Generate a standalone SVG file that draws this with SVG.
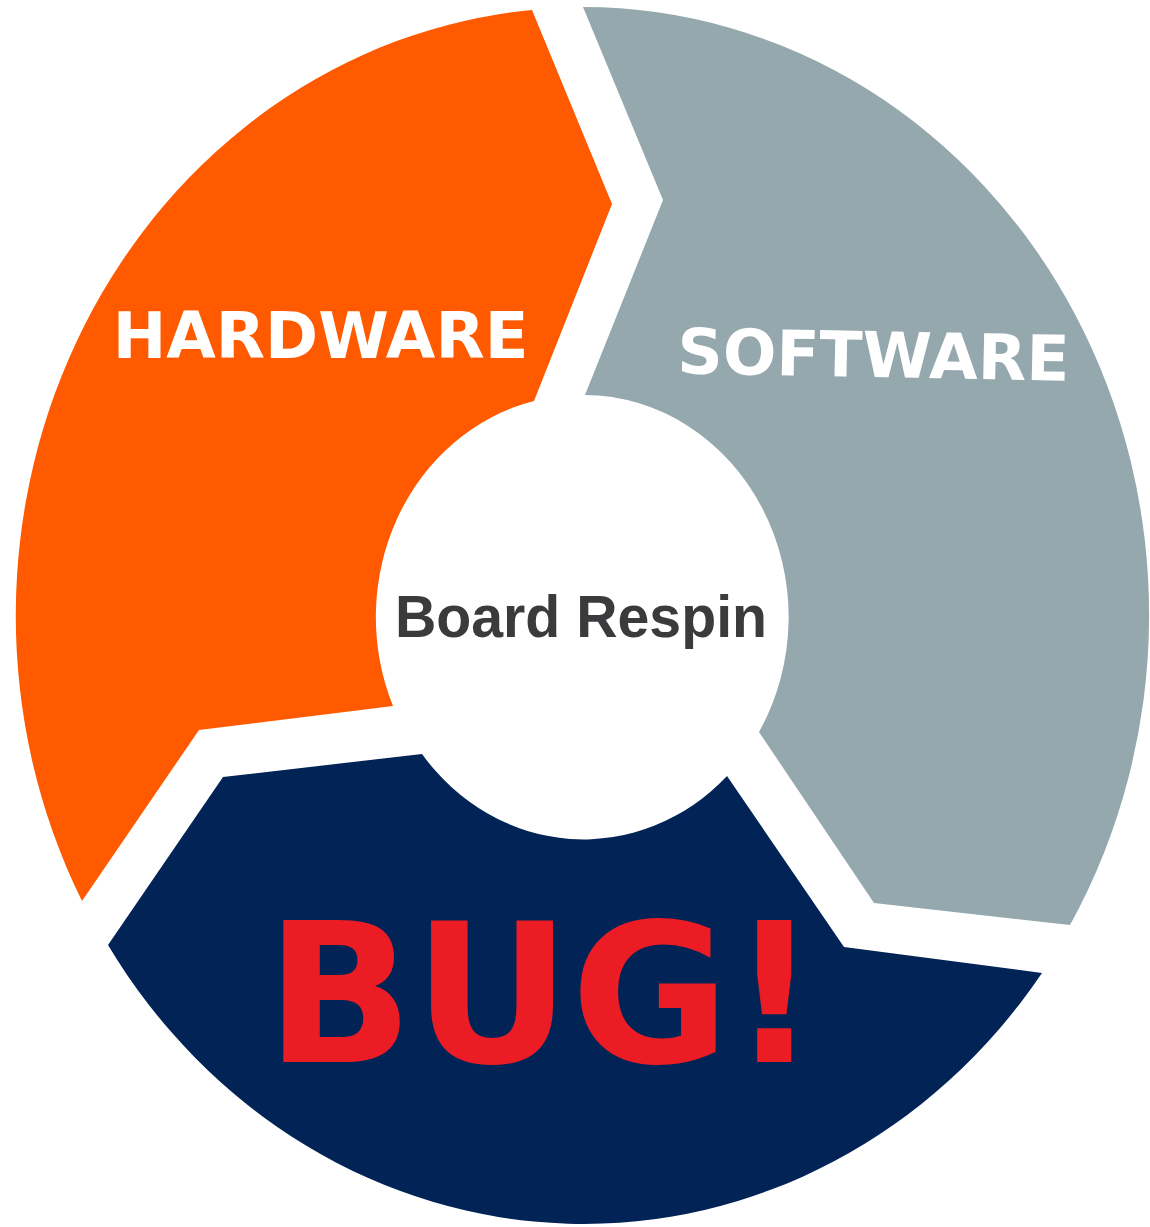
<svg xmlns="http://www.w3.org/2000/svg" width="1150" height="1227" viewBox="0 0 1150 1227">
  <style>
    .seg { stroke: none; }
    .hw { fill: #FF5A00; }
    .sw { fill: #95A8AD; }
    .bug { fill: #022356; }
    .lbl { font-family: "DejaVu Sans", "Liberation Sans", sans-serif; font-weight: bold; fill: #FFFFFF; }
    .center { font-family: "Liberation Sans", Arial, sans-serif; font-weight: bold; fill: #3B3B3D; }
    .big { font-family: "DejaVu Sans", "Liberation Sans", sans-serif; font-weight: bold; fill: #EC1C24; }
  </style>
  <rect x="0" y="0" width="1150" height="1227" fill="#FFFFFF"/>
  <g id="hardware">
    <path class="seg hw" d="M 532 10 L 612 204 L 534 401 A 205 222 0 0 0 393 706 L 199 730 L 82 901 A 566 608 0 0 1 532 10 Z"/>
    <text class="lbl" x="320.5" y="358" font-size="64" text-anchor="middle">HARDWARE</text>
  </g>
  <g id="software">
    <path class="seg sw" d="M 583 7 A 566 608 0 0 1 1070 925 L 874 903 L 759 732 A 205 222 0 0 0 585 395 L 663 200 Z"/>
    <text class="lbl" x="873" y="377" font-size="63" text-anchor="middle" transform="rotate(1.1 873 377)">SOFTWARE</text>
  </g>
  <g id="bug">
    <path class="seg bug" d="M 1042 973 A 566 608 0 0 1 108 945 L 223 777 L 422 754 A 205 222 0 0 0 727 776 L 844 947 Z"/>
    <text class="big" x="542" y="1062" font-size="194" text-anchor="middle">BUG!</text>
  </g>
  <g id="board-respin">
    <text class="center" x="581" y="637" font-size="60" text-anchor="middle" textLength="372" lengthAdjust="spacingAndGlyphs">Board Respin</text>
  </g>
  <g id="connectors"/>
</svg>
